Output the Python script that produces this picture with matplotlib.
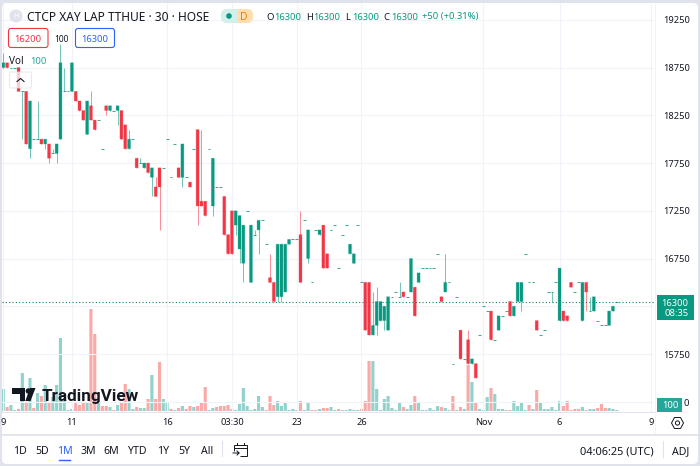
import matplotlib
matplotlib.use("Agg")
import matplotlib.pyplot as plt
from matplotlib.patches import Circle, FancyBboxPatch, Polygon, Rectangle

plt.rcParams['font.family'] = ['Noto Sans', 'DejaVu Sans']

# candles (prices move in steps of 50)
opens = [18750, 18800, 18750, 18750, 18750, 18500, 18500, 17900, 18000, 18000,
         18000, 17950, 17950, 17850, 17850, 18000, 18500, 18500, 18500, 18500,
         18400, 18300, 18050, 18350, 18200, 18200, 17900, 18350, 18300, 18300,
         18300, 18300, 18150, 17900, 18000, 17800, 17750, 17700, 17750, 17600,
         17500, 17700, 17700, 18000, 17600, 17950, 17700, 17600, 17600, 17550,
         17900, 18100, 17350, 17350, 17900, 17300, 17500, 17500, 17400, 17000,
         17250, 17100, 16850, 16700, 17250, 16500, 17000, 17050, 17150, 16900,
         16550, 16500, 16350, 16350, 16400, 16900, 16950, 16950, 17000, 17150,
         16750, 16500, 17050, 17000, 17100, 16800, 17050, 17100, 16650, 17000,
         17100, 16800, 16700, 17100, 16500, 16500, 16500, 15950, 16050, 16100,
         16100, 16000, 16350, 16400, 16350, 16400, 16350, 16400, 16450, 16500,
         16650, 16650, 16650, 16650, 16800, 16350, 16400, 16500, 15650, 16350,
         16000, 15700, 15900, 15650, 15650, 15950, 16250, 16200, 16200, 15900,
         16000, 16150, 16200, 16300, 16150, 16300, 16300, 16800, 16500, 16500,
         16100, 15950, 16000, 16400, 16400, 16500, 16100, 16200, 16150, 16500,
         16400, 16500, 16100, 16500, 16200, 16200, 16100, 16050, 16050, 16050,
         16200, 16300]
closes = [18800, 18750, 18750, 18750, 18500, 18500, 17950, 18400, 18000, 18000,
          17950, 18000, 17800, 17850, 17950, 18800, 18500, 18500, 18800, 18400,
          18300, 18200, 18400, 18200, 18100, 18200, 17900, 18300, 18350, 18300,
          18350, 18000, 17900, 18000, 18000, 17700, 17750, 17750, 17650, 17700,
          17400, 17500, 17700, 18000, 17600, 17950, 17600, 17950, 17600, 17500,
          17900, 17300, 17300, 17200, 17900, 17800, 17500, 17500, 17000, 16800,
          16800, 17250, 17200, 17100, 17250, 17100, 17000, 17150, 17150, 16900,
          16500, 16300, 16900, 16900, 16900, 16950, 16950, 16950, 16500, 17150,
          17050, 16500, 17050, 17050, 16650, 16650, 17050, 17100, 16650, 17000,
          17100, 16900, 16800, 17100, 16500, 16000, 15950, 16050, 16300, 16300,
          16250, 16350, 16350, 16400, 16350, 16350, 16350, 16750, 16150, 16600,
          16650, 16650, 16650, 16650, 16800, 16300, 16500, 16500, 15650, 16350,
          15700, 15700, 15650, 15700, 15500, 15950, 16250, 16200, 15900, 15900,
          16150, 16150, 16200, 16150, 16250, 16500, 16500, 16800, 16500, 16500,
          16000, 15950, 16000, 16400, 16400, 16500, 16650, 16100, 16100, 16450,
          16400, 16500, 16500, 16400, 16200, 16350, 16100, 16050, 16050, 16200,
          16250, 16300]
highs = [18900, 18800, 18750, 18750, 18750, 18500, 18500, 18400, 18000, 18400,
         18000, 18000, 17950, 17900, 17950, 19000, 18750, 18500, 18800, 18500,
         18400, 18300, 18400, 18500, 18200, 18200, 17900, 18350, 18350, 18300,
         18350, 18300, 18150, 18100, 18000, 17800, 17800, 17750, 17750, 17700,
         17600, 17700, 17700, 18000, 17600, 17950, 17700, 17950, 17600, 17550,
         17900, 18100, 18100, 17350, 17900, 17800, 17500, 17500, 17400, 17000,
         17250, 17250, 17200, 17100, 17250, 17100, 17050, 17150, 17150, 16900,
         16800, 16500, 16900, 16900, 16900, 16950, 16950, 16950, 17250, 17150,
         17050, 16500, 17050, 17050, 17100, 16800, 17050, 17100, 16650, 17000,
         17100, 16900, 16800, 17100, 16500, 16500, 16500, 16400, 16450, 16300,
         16250, 16350, 16350, 16400, 16500, 16400, 16350, 16750, 16450, 16600,
         16650, 16650, 16650, 16650, 16800, 16350, 16800, 16500, 15650, 16350,
         16000, 15700, 16000, 15700, 15650, 15950, 16250, 16200, 16200, 15900,
         16150, 16150, 16200, 16300, 16250, 16500, 16500, 16800, 16500, 16500,
         16100, 15950, 16000, 16400, 16400, 16500, 16650, 16200, 16150, 16500,
         16400, 16500, 16500, 16500, 16350, 16350, 16100, 16050, 16050, 16200,
         16250, 16300]
lows = [18750, 18750, 18750, 18750, 18500, 18000, 17950, 17800, 18000, 18000,
        17950, 17900, 17750, 17850, 17750, 18000, 18500, 18500, 18500, 18400,
        18300, 18200, 18050, 18200, 18100, 18200, 17900, 18250, 18300, 18300,
        18150, 18000, 17900, 17900, 18000, 17700, 17750, 17700, 17650, 17400,
        17400, 17050, 17700, 18000, 17600, 17950, 17600, 17500, 17600, 17500,
        17900, 17100, 17300, 17200, 17900, 17200, 17500, 17500, 17000, 16800,
        16800, 17000, 16700, 16500, 17250, 16500, 17000, 16800, 17150, 16900,
        16500, 16300, 16300, 16300, 16400, 16900, 16950, 16950, 16500, 17150,
        16700, 16500, 17050, 17000, 16650, 16650, 17050, 17100, 16650, 17000,
        17100, 16800, 16700, 17100, 16500, 16000, 15950, 15950, 15950, 16100,
        16000, 16000, 16350, 16400, 16350, 16350, 16350, 16400, 16150, 16500,
        16650, 16650, 16650, 16650, 16800, 16300, 16400, 16500, 15650, 16350,
        15700, 15700, 15650, 15650, 15500, 15950, 16250, 16200, 15900, 15900,
        16000, 16150, 16200, 16150, 16150, 16300, 16200, 16800, 16500, 16500,
        16000, 15950, 16000, 16400, 16300, 16500, 16100, 16100, 16100, 16450,
        16400, 16500, 16100, 16200, 16200, 16200, 16100, 16050, 16050, 16050,
        16200, 16300]
volumes = [2200, 400, 600, 100, 200, 3800, 900, 3300, 300, 1800,
           1500, 2600, 900, 1400, 2600, 7300, 1300, 100, 200, 900,
           600, 900, 900, 10200, 7700, 1000, 500, 500, 400, 100,
           600, 900, 2700, 2200, 200, 400, 300, 300, 1200, 3600,
           1200, 4900, 1200, 900, 200, 100, 300, 500, 200, 500,
           400, 500, 900, 2400, 100, 300, 400, 500, 500, 600,
           200, 100, 700, 2300, 500, 100, 200, 1500, 400, 100,
           1500, 600, 1000, 500, 800, 100, 200, 100, 1000, 100,
           900, 100, 100, 200, 300, 300, 400, 100, 200, 100,
           100, 200, 100, 100, 200, 1000, 5000, 5000, 2200, 100,
           1200, 1500, 300, 100, 900, 400, 200, 600, 1500, 800,
           100, 100, 300, 100, 500, 400, 300, 100, 1500, 100,
           400, 200, 4600, 2900, 900, 200, 100, 1400, 2300, 1700,
           200, 200, 100, 100, 1000, 500, 800, 100, 600, 200,
           2100, 800, 200, 200, 400, 100, 1000, 500, 1000, 100,
           200, 200, 400, 100, 200, 200, 300, 700, 300, 300,
           200, 100]
# flat bars whose volume column is drawn red anyway
red_flat_bars = [8, 26, 29, 44, 48, 56, 57, 69, 81, 82, 88, 94, 118, 138, 150, 151, 156, 157, 158]

price_ticks = [19250, 18750, 18250, 17750, 17250, 16750, 16250, 15750, 15250]
# 16250 is hidden behind the last price badge, 15250 behind the volume badge
price_labels = ['19250', '18750', '18250', '17750', '17250', '16750', '', '15750', '']
time_ticks = [0, 18, 43, 60, 77, 94, 126, 146, 170]
time_labels = ['9', '11', '16', '03:30', '23', '26', 'Nov', '6', '9']
ranges = ['1D', '5D', '1M', '3M', '6M', 'YTD', '1Y', '5Y', 'All']
range_x = [20, 42, 65, 88, 111, 137, 163, 184, 207]
last_price = 16300

GREEN = '#089981'
RED = '#F23645'
VOL_GREEN = '#92D2CC'
VOL_RED = '#F9A9A8'
GRID = '#F0F3FA'
BORDER = '#E0E3EB'
TEXT = '#131722'

W, H = 700, 466
fig = plt.figure(figsize=(7, 4.66), dpi=100, facecolor=BORDER)


def px_axes(left, top, right, bottom, z):
    a = fig.add_axes([left / W, 1 - bottom / H, (right - left) / W, (bottom - top) / H], zorder=z)
    a.patch.set_visible(False)
    return a


# panel behind everything
bg = px_axes(0, 0, W, H, 0)
bg.set_xlim(0, W)
bg.set_ylim(H, 0)
bg.axis('off')
bg.add_patch(FancyBboxPatch((5, 6), 690, 455, boxstyle='round,pad=3,rounding_size=5', fc='white', ec='none'))

# bar index / price scales line up with the pixels of the reference
CHART = (2, 3, 654, 412)
x_to_i = lambda px: (px - 3.3) / 3.81
price_at = lambda py: last_price + (301.5 - py) / 0.0955

ax_vol = px_axes(*CHART, 1)
ax_vol.set_xlim(x_to_i(2), x_to_i(654))
ax_vol.set_ylim(-100, 40800)
ax_vol.axis('off')

ax = px_axes(*CHART, 2)
ax.set_xlim(x_to_i(2), x_to_i(654))
ax.set_ylim(price_at(412), price_at(3))

idx = list(range(len(closes)))

# volume pane
vol_colors = []
for i in idx:
    if closes[i] < opens[i] or i in red_flat_bars:
        vol_colors.append(VOL_RED)
    else:
        vol_colors.append(VOL_GREEN)
ax_vol.bar(idx, volumes, width=0.82, color=vol_colors, linewidth=0, snap=False)

# candles
for i in idx:
    c = RED if closes[i] < opens[i] else GREEN
    ax.vlines(i, lows[i], highs[i], color=c, linewidth=0.75, alpha=0.55, zorder=3)
    if opens[i] == closes[i]:
        ax.hlines(opens[i], i - 0.36, i + 0.36, color=c, linewidth=0.75, alpha=0.8, capstyle='butt', zorder=4)
    else:
        bottom = min(opens[i], closes[i])
        ax.bar(i, abs(closes[i] - opens[i]), bottom=bottom, width=0.78, color=c,
               edgecolor=c + '40', linewidth=0.7, zorder=4, snap=False)

ax.axhline(last_price, color='#0A7F6C', linewidth=0.8, linestyle=(0, (1, 2)), zorder=2)

ax.set_yticks(price_ticks)
ax.set_yticklabels(price_labels)
ax.set_xticks(time_ticks)
ax.set_xticklabels(time_labels)
ax.yaxis.tick_right()
ax.tick_params(axis='y', length=0, pad=6.5, labelsize=6.7, labelcolor=TEXT)
ax.tick_params(axis='x', length=0, pad=4.5, labelsize=6.7, labelcolor=TEXT)
ax.grid(True, color=GRID, linewidth=0.8, zorder=0)
ax.set_axisbelow(True)
for name in ['top', 'left', 'right']:
    ax.spines[name].set_visible(False)
ax.spines['bottom'].set_color(BORDER)
ax.spines['bottom'].set_linewidth(0.7)
for lab in ax.get_xticklabels():
    lab.set_clip_on(False)

# everything that is not data goes on a pixel overlay
ui = px_axes(0, 0, W, H, 3)
ui.set_xlim(0, W)
ui.set_ylim(H, 0)
ui.axis('off')


def label(x, y, s, color=TEXT, size=6.8, ha='left', **kw):
    ui.text(x, y, s, color=color, fontsize=size, ha=ha, va='center_baseline', **kw)


def box(x, y, w, h, fc, ec='none', lw=0.8, r=2, alpha=None):
    ui.add_patch(FancyBboxPatch((x + r, y + r), w - 2 * r, h - 2 * r,
                                boxstyle='round,pad=%g,rounding_size=%g' % (r, r),
                                fc=fc, ec=ec, lw=lw, alpha=alpha))


# title row
ui.add_patch(Circle((16, 16), 6.5, fc=BORDER, ec='none'))
label(16, 16, 'H', color='white', size=5.5, ha='center')
label(27, 16, 'CTCP XAY LAP TTHUE · 30 · HOSE', size=8.6)
box(221, 9, 32, 14, '#D3EFEB', r=6)
ui.add_patch(Rectangle((237, 9), 10, 14, fc='#FFDFAF', ec='none'))
box(240, 9, 13, 14, '#FFDFAF', r=6)
ui.add_patch(Circle((229, 16), 2.8, fc=GREEN, ec='none'))
label(244, 16, 'D', color='#F57C00', size=7.4, ha='center', fontweight='bold')
ohlc_x = [266, 306, 345, 383]
ohlc_values_x = [274, 313, 352, 391]
for x, vx, a in zip(ohlc_x, ohlc_values_x, 'OHLC'):
    label(x, 16, a)
    label(vx, 16, '16300', color=GREEN)
label(422, 16, '+50 (+0.31%)', color=GREEN)

# buy/sell boxes
box(8.5, 28.5, 39.5, 19, 'white', ec=RED, lw=0.8, r=2.5)
label(28, 38, '16200', color=RED, ha='center')
label(61, 38, '100', size=6, ha='center')
box(75.5, 28.5, 39, 19, 'white', ec='#2962FF', lw=0.8, r=2.5)
label(95, 38, '16300', color='#2962FF', ha='center')
label(9, 60, 'Vol', size=7.2)
label(30, 60, '100', color='#26A69A')
box(9.5, 72, 22, 16, 'white', ec=BORDER, lw=0.8, r=2, alpha=0.75)
ui.plot([17, 20.5, 24], [81.5, 78.5, 81.5], color=TEXT, lw=0.8)

# logo
ui.add_patch(Polygon([(12, 388), (25, 388), (25, 401), (19.5, 401), (19.5, 393.5), (12, 393.5)], fc=TEXT, ec='none'))
ui.add_patch(Circle((28.3, 391), 2.7, fc=TEXT, ec='none'))
ui.add_patch(Polygon([(30, 388), (35.5, 388), (30.5, 401), (25.3, 401)], fc=TEXT, ec='none'))
ui.text(42, 395, 'TradingView', color=TEXT, fontsize=12.3, fontweight='bold', family='Roboto',
        ha='left', va='center_baseline')

# last price / volume badges
ui.add_patch(Rectangle((656.5, 295), 37, 24.5, fc=GREEN, ec='none'))
label(688.5, 302, '16300', color='white', ha='right')
label(688.5, 313, '08:35', color='white', ha='right')
ui.add_patch(Rectangle((656.5, 398), 25.5, 14, fc='#26A69A', ec='none'))
label(670, 405, '100', color='white', ha='center')
label(683, 402, '0')
ui.plot([655, 655], [3, 434], color=BORDER, lw=0.5, alpha=0.6)

# settings hexagon at the end of the time axis
ui.add_patch(Polygon([(671.5, 423), (674.5, 417.5), (680.5, 417.5), (683.5, 423), (680.5, 428.5), (674.5, 428.5)],
                     fc='none', ec=TEXT, lw=0.7))
ui.add_patch(Circle((677.5, 423), 2.1, fc='none', ec=TEXT, lw=0.7))

# bottom toolbar
ui.plot([2, 698], [434.5, 434.5], color=BORDER, lw=1.3)
for x, r in zip(range_x, ranges):
    label(x, 450, r, color='#2962FF' if r == '1M' else TEXT, size=7.6, ha='center')
ui.plot([59, 70], [459.5, 459.5], color='#2962FF', lw=1)
ui.plot([222, 222], [441, 456], color=BORDER, lw=0.8)
ui.add_patch(Polygon([(234, 451), (234, 445), (247, 445), (247, 456), (240, 456)], closed=False, fc='none', ec=TEXT, lw=0.7))
ui.plot([234, 247], [447.5, 447.5], color=TEXT, lw=0.7)
ui.plot([237, 237], [442.5, 445], color=TEXT, lw=0.7)
ui.plot([244, 244], [442.5, 445], color=TEXT, lw=0.7)
ui.plot([233, 239, 237, None, 239, 237], [453, 453, 451, None, 453, 455], color=TEXT, lw=0.7)
label(654, 450, '04:06:25 (UTC)', size=7.9, ha='right')
ui.plot([663, 663], [441, 457], color=BORDER, lw=0.8)
label(672, 450, 'ADJ', size=7.6)

fig.savefig('out.png', dpi=100, facecolor=BORDER)
